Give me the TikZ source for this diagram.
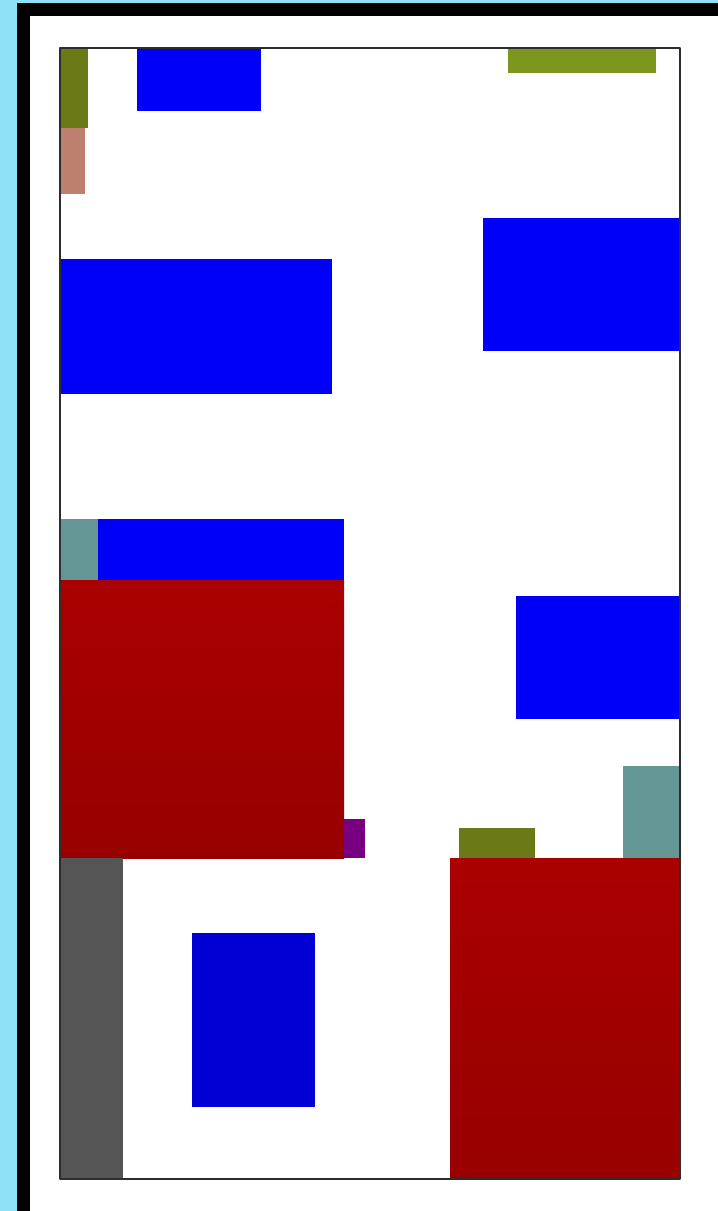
\documentclass[tikz,border=0pt]{standalone}
\definecolor{skyedge}{RGB}{143,225,247}
\definecolor{oliveA}{RGB}{107,122,22}
\definecolor{oliveB}{RGB}{125,150,30}
\definecolor{rosy}{RGB}{190,128,110}
\definecolor{pureblue}{RGB}{0,0,250}
\definecolor{deepblue}{RGB}{0,0,212}
\definecolor{tealgray}{RGB}{100,150,150}
\definecolor{redtop}{RGB}{170,0,0}
\definecolor{redbot}{RGB}{152,0,0}
\definecolor{plum}{RGB}{120,0,128}
\definecolor{slate}{RGB}{85,85,85}
\definecolor{framegray}{RGB}{45,45,45}
\tikzset{
  blk/.style={fill=#1, draw=none},
  redblk/.style={top color=redtop, bottom color=redbot, draw=none},
  framebox/.style={draw=framegray, line width=2pt, line join=round},
}
\begin{document}
\begin{tikzpicture}[x=1pt,y=-1pt]
\useasboundingbox (0,0) rectangle (718,1211);
% outer borders
\fill[white] (0,0) rectangle (718,1211);
\fill[skyedge] (0,0) rectangle (718,3);
\fill[skyedge] (0,0) rectangle (17,1211);
\fill[black] (17,3) rectangle (718,16);
\fill[black] (17,3) rectangle (30,1211);
% blocks
\path[blk=oliveA] (60,48) rectangle (88,128);
\path[blk=rosy] (60,128) rectangle (85,194);
\path[blk=pureblue] (137,48) rectangle (261,111);
\path[blk=oliveB] (508,48) rectangle (656,73);
\path[blk=pureblue] (60,259) rectangle (332,394);
\path[blk=pureblue] (483,218) rectangle (680,351);
\path[blk=tealgray] (60,519) rectangle (98,580);
\path[blk=pureblue] (98,519) rectangle (344,580);
\path[redblk] (60,580) rectangle (344,858);
\path[blk=plum] (344,819) rectangle (365,858);
\path[blk=pureblue] (516,596) rectangle (680,719);
\path[blk=tealgray] (623,766) rectangle (680,858);
\path[blk=oliveA] (459,828) rectangle (535,858);
\path[redblk] (450,858) rectangle (680,1179);
\path[blk=slate] (60,858) rectangle (123,1179);
\path[blk=deepblue] (192,933) rectangle (315,1107);
% frame
\draw[framebox] (60,48) rectangle (680,1179);
\end{tikzpicture}
\end{document}
